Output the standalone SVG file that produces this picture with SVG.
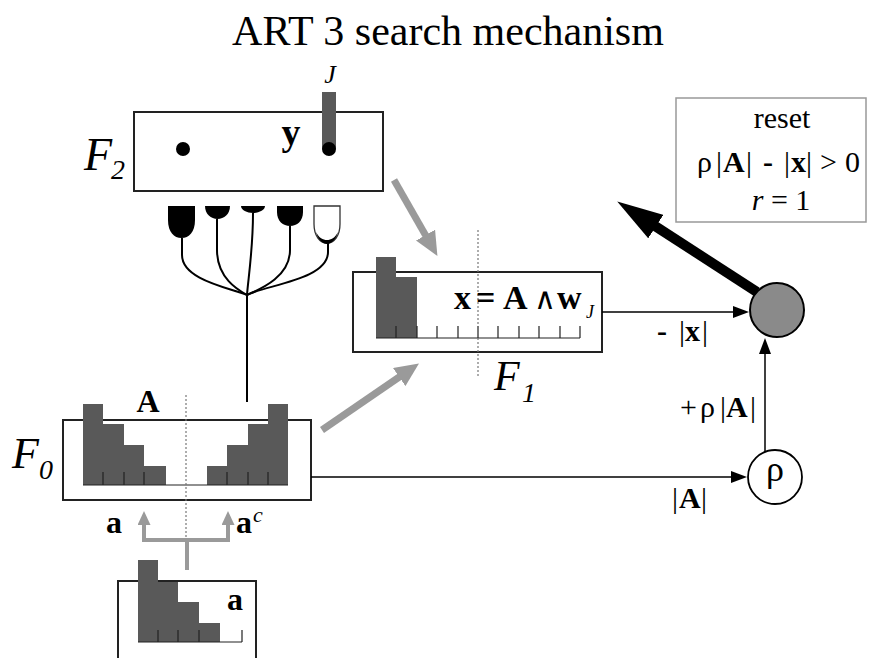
<svg xmlns="http://www.w3.org/2000/svg" width="881" height="658" viewBox="0 0 881 658" font-family="'Liberation Serif', 'DejaVu Serif', serif">
<style>
  text { font-family: 'Liberation Serif', 'DejaVu Serif', serif; fill: #000; }
  .b { font-weight: bold; }
  .i { font-style: italic; }
  .box { fill: #fff; stroke: #222; stroke-width: 2; }
  .bar { fill: #595959; }
  .tick { stroke: #222; stroke-width: 1.2; fill: none; }
  .dot { stroke: #777; stroke-width: 1.2; stroke-dasharray: 2 2; fill: none; }
  .thin { stroke: #000; stroke-width: 1.5; fill: none; }
  .gray { stroke: #9a9a9a; fill: none; }
  .stem { stroke: #000; stroke-width: 2; fill: none; }
</style>
<defs>
  <marker id="hBlack" markerUnits="userSpaceOnUse" markerWidth="16" markerHeight="12" refX="1" refY="6" orient="auto">
    <path d="M0,0 L16,6 L0,12 z" fill="#000"/>
  </marker>
  <marker id="hGrayBig" markerUnits="userSpaceOnUse" markerWidth="24" markerHeight="22" refX="1" refY="11" orient="auto">
    <path d="M0,0 L24,11 L0,22 z" fill="#9a9a9a"/>
  </marker>
  <marker id="hGraySm" markerUnits="userSpaceOnUse" markerWidth="14" markerHeight="13" refX="1" refY="6.5" orient="auto">
    <path d="M0,0 L14,6.5 L0,13 z" fill="#9a9a9a"/>
  </marker>
  <marker id="hThick" markerUnits="userSpaceOnUse" markerWidth="46" markerHeight="28" refX="1" refY="14" orient="auto">
    <path d="M0,0 L46,14 L0,28 z" fill="#000"/>
  </marker>
</defs>

<rect width="881" height="658" fill="#fff"/>

<g id="title">
  <text x="448" y="45" font-size="42" text-anchor="middle">ART 3 search mechanism</text>
</g>

<g id="F2">
  <rect class="box" x="134" y="112" width="249" height="79"/>
  <circle cx="183" cy="149" r="7" fill="#000"/>
  <rect x="322" y="92" width="14" height="57" fill="#595959"/>
  <circle cx="329" cy="149" r="7" fill="#000"/>
  <text class="i" x="330" y="83" font-size="26" text-anchor="middle">J</text>
  <text class="b" x="291" y="145" font-size="38" text-anchor="middle">y</text>
  <text class="i" x="84" y="170" font-size="46">F</text>
  <text class="i" x="111" y="179" font-size="28">2</text>
</g>

<g id="synapses">
  <path d="M168,206 H195 V220 C195,232 189,238 181.5,238 C174,238 168,232 168,220 Z" fill="#000"/>
  <path d="M205,206 H230 C230,214 224,219 217.5,219 C211,219 205,214 205,206 Z" fill="#000"/>
  <path d="M241,206 H265 C265,210 259,213 253,213 C247,213 241,210 241,206 Z" fill="#000"/>
  <path d="M277,206 H303 V212 C303,221 297,226 290,226 C283,226 277,221 277,212 Z" fill="#000"/>
  <path d="M314,206 H340 V224 C340,236 334,243 327,243 C320,243 314,236 314,224 Z" fill="#fff" stroke="#333" stroke-width="1.3"/>
  <path d="M316,232 C318,240 323,244 327,244 C331,244 336,240 338,232 C335,238 331,240 327,240 C323,240 319,238 316,232 Z" fill="#000"/>
  <path class="stem" d="M182,238 V255 C182,280 230,288 247,295"/>
  <path class="stem" d="M217,219 V250 C217,278 238,290 247,295"/>
  <path class="stem" d="M253,213 C253,250 248,280 247,295"/>
  <path class="stem" d="M290,226 V250 C290,278 258,290 247,295"/>
  <path class="stem" d="M328,243 V252 C328,280 265,285 247,295"/>
  <path class="stem" d="M247,295 V402"/>
</g>

<g id="F1">
  <rect class="box" x="353" y="272" width="249" height="80"/>
  <rect class="bar" x="376" y="257" width="20" height="81"/>
  <rect class="bar" x="396" y="277" width="21" height="61"/>
  <path class="tick" d="M376,338 H580 M396,326 V338 M417,326 V338 M437,326 V338 M458,326 V338 M478,326 V338 M498,326 V338 M519,326 V338 M539,326 V338 M560,326 V338 M580,326 V338"/>
  <line class="dot" x1="478" y1="230" x2="478" y2="376"/>
  <text class="b" x="454" y="309" font-size="34">x</text>
  <text class="b" x="476" y="309" font-size="34">=</text>
  <text class="b" x="503" y="309" font-size="34">A</text>
  <text x="534" y="309" font-size="30">∧</text>
  <text class="b" x="557" y="309" font-size="34">w</text>
  <text class="i" x="586" y="318" font-size="18">J</text>
  <text class="i" x="494" y="390" font-size="42">F</text>
  <text class="i" x="522" y="402" font-size="28">1</text>
</g>

<g id="F0">
  <rect class="box" x="63" y="420" width="248" height="80"/>
  <rect class="bar" x="83" y="404" width="20" height="81"/>
  <rect class="bar" x="103" y="424" width="21" height="61"/>
  <rect class="bar" x="124" y="445" width="20" height="40"/>
  <rect class="bar" x="144" y="466" width="22" height="19"/>
  <rect class="bar" x="207" y="466" width="20" height="19"/>
  <rect class="bar" x="227" y="445" width="21" height="40"/>
  <rect class="bar" x="248" y="424" width="20" height="61"/>
  <rect class="bar" x="268" y="404" width="20" height="81"/>
  <path class="tick" d="M83,485 H288 M103,472 V485 M124,472 V485 M144,472 V485 M227,472 V485 M248,472 V485 M268,472 V485"/>
  <line class="dot" x1="186" y1="395" x2="186" y2="540"/>
  <text class="b" x="148" y="412" font-size="32" text-anchor="middle">A</text>
  <text class="i" x="12" y="468" font-size="44">F</text>
  <text class="i" x="39" y="479" font-size="28">0</text>
</g>

<g id="input">
  <rect class="box" x="118" y="581" width="138" height="120"/>
  <rect class="bar" x="138" y="560" width="20" height="82"/>
  <rect class="bar" x="158" y="582" width="20" height="60"/>
  <rect class="bar" x="178" y="602" width="21" height="40"/>
  <rect class="bar" x="199" y="623" width="21" height="19"/>
  <path class="tick" d="M138,642 H242 M158,630 V642 M178,630 V642 M199,630 V642 M242,630 V642"/>
  <text class="b" x="235" y="610" font-size="32" text-anchor="middle">a</text>
</g>

<g id="reset">
  <rect x="676" y="98" width="190" height="124" fill="#fff" stroke="#999" stroke-width="1.5"/>
  <text x="782" y="128" font-size="30" text-anchor="middle">reset</text>
  <text x="697" y="172" font-size="30">ρ</text>
  <text x="716" y="172" font-size="30">|</text>
  <text class="b" x="723" y="172" font-size="30">A</text>
  <text x="746" y="172" font-size="30">|</text>
  <text class="b" x="763" y="172" font-size="30">-</text>
  <text x="784" y="172" font-size="30">|</text>
  <text class="b" x="791" y="172" font-size="30">x</text>
  <text x="806" y="172" font-size="30">|</text>
  <text x="820" y="172" font-size="30">&gt;</text>
  <text x="845" y="172" font-size="30">0</text>
  <text x="781" y="210" font-size="30" text-anchor="middle"><tspan font-style="italic">r</tspan> = 1</text>
</g>

<g id="mismatch">
  <circle cx="777" cy="310" r="27" fill="#8a8a8a" stroke="#000" stroke-width="2"/>
</g>

<g id="rho">
  <circle cx="775" cy="477" r="27" fill="#fff" stroke="#000" stroke-width="1.8"/>
  <text x="775" y="481" font-size="36" text-anchor="middle">ρ</text>
</g>

<g id="connectors">
  <line class="gray" stroke-width="7" x1="394" y1="180" x2="426" y2="236" marker-end="url(#hGrayBig)"/>
  <line class="gray" stroke-width="7" x1="322" y1="430" x2="400" y2="376.5" marker-end="url(#hGrayBig)"/>
  <path class="gray" stroke-width="4" d="M187,570 V540 M144,540 H228"/>
  <line class="gray" stroke-width="4" x1="144" y1="542" x2="144" y2="524" marker-end="url(#hGraySm)"/>
  <line class="gray" stroke-width="4" x1="228" y1="542" x2="228" y2="524" marker-end="url(#hGraySm)"/>
  <line class="thin" x1="602" y1="312" x2="734" y2="312" marker-end="url(#hBlack)"/>
  <line class="thin" x1="311" y1="477" x2="732" y2="477" marker-end="url(#hBlack)"/>
  <line class="thin" x1="765" y1="452" x2="765" y2="353" marker-end="url(#hBlack)"/>
  <line stroke="#000" stroke-width="10" x1="757" y1="292" x2="655" y2="226" marker-end="url(#hThick)"/>
  <text class="b" x="106" y="533" font-size="32">a</text>
  <text class="b" x="236" y="533" font-size="32">a</text>
  <text class="i" x="253" y="522" font-size="22">c</text>
  <text class="b" x="657" y="341" font-size="30">-</text>
  <text x="679" y="341" font-size="30">|</text>
  <text class="b" x="685" y="341" font-size="30">x</text>
  <text x="702" y="341" font-size="30">|</text>
  <text x="680" y="417" font-size="30">+</text>
  <text x="700" y="417" font-size="30">ρ</text>
  <text x="720" y="417" font-size="30">|</text>
  <text class="b" x="726" y="417" font-size="30">A</text>
  <text x="750" y="417" font-size="30">|</text>
  <text x="672" y="508" font-size="30">|</text>
  <text class="b" x="679" y="508" font-size="30">A</text>
  <text x="701" y="508" font-size="30">|</text>
</g>
</svg>
